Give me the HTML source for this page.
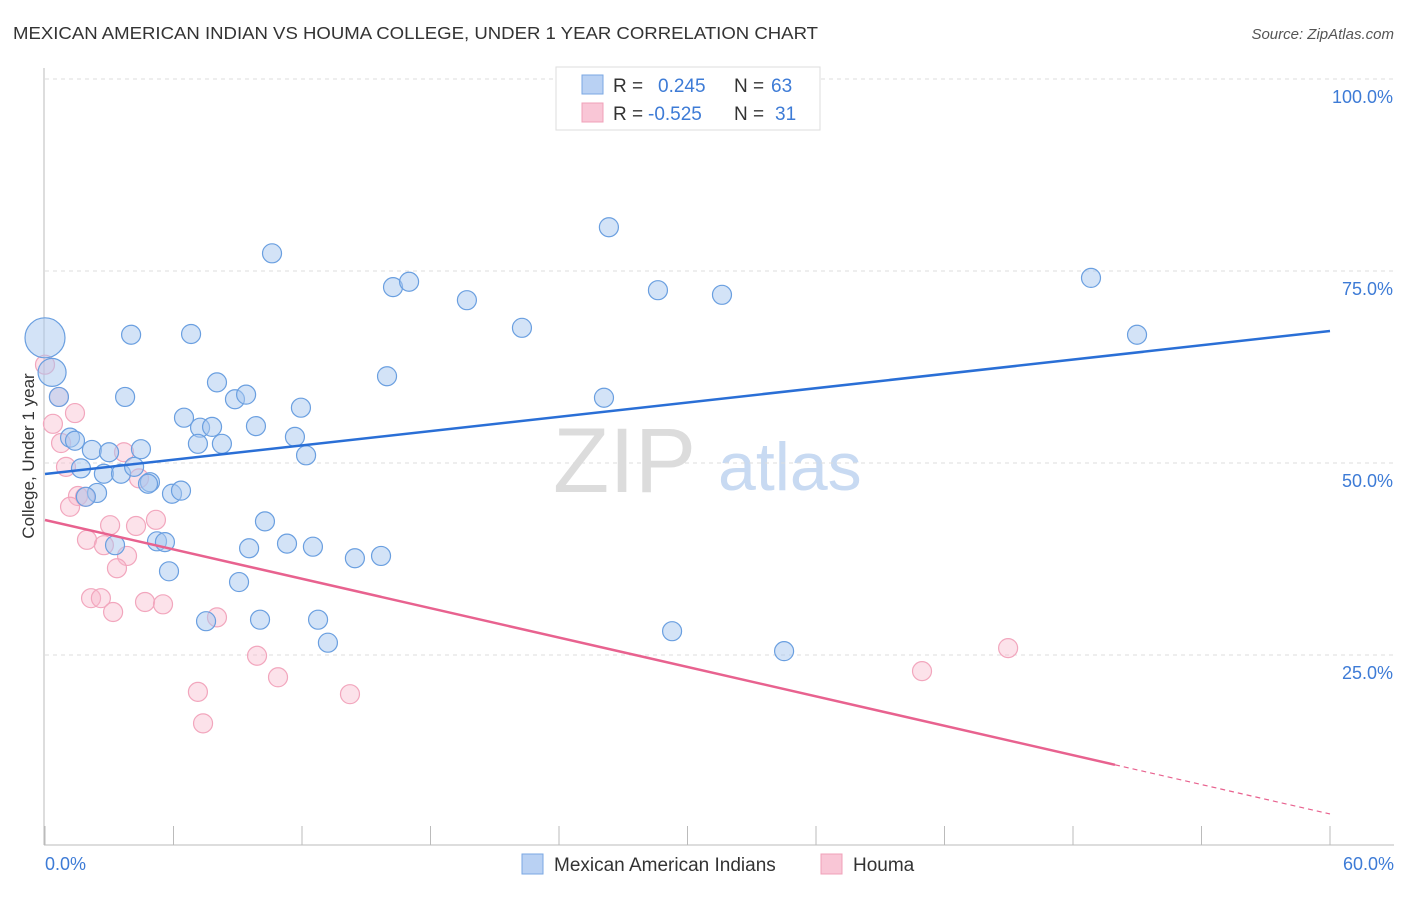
<!DOCTYPE html>
<html><head><meta charset="utf-8"><style>
body{margin:0;background:#fff;font-family:"Liberation Sans",sans-serif}
svg text{font-family:"Liberation Sans",sans-serif}
</style></head><body>
<svg id="chart" width="1406" height="892" xmlns="http://www.w3.org/2000/svg">
<text x="13" y="39" font-size="17.5" fill="#333" textLength="805" lengthAdjust="spacingAndGlyphs">MEXICAN AMERICAN INDIAN VS HOUMA COLLEGE, UNDER 1 YEAR CORRELATION CHART</text>
<text x="1394" y="39" font-size="15" fill="#555" text-anchor="end" font-style="italic">Source: ZipAtlas.com</text>
<g>
<text x="553" y="492" font-size="92" fill="#dcdcdc" font-family="Liberation Serif,serif">ZIP</text>
<text x="718" y="490" font-size="68" fill="#c8daf2">atlas</text>
</g>
<g id="grid"></g>
<g id="axes"></g>
<g id="pts"></g>
<g id="lines"></g>
<text transform="translate(34,456) rotate(-90)" font-size="17" fill="#333" text-anchor="middle">College, Under 1 year</text>
<g>
<rect x="556" y="67" width="264" height="63" fill="#fff" stroke="#ddd"/>
<rect x="582" y="75" width="21" height="19" fill="#b9d1f3" stroke="#7aa7e3"/>
<rect x="582" y="103" width="21" height="19" fill="#f9c6d6" stroke="#f0a0b8"/>
<text x="613" y="92" font-size="19" fill="#333">R =</text>
<text x="658" y="92" font-size="19" fill="#3d7bd6">0.245</text>
<text x="734" y="92" font-size="19" fill="#333">N =</text>
<text x="771" y="92" font-size="19" fill="#3d7bd6">63</text>
<text x="613" y="120" font-size="19" fill="#333">R =</text>
<text x="648" y="120" font-size="19" fill="#3d7bd6">-0.525</text>
<text x="734" y="120" font-size="19" fill="#333">N =</text>
<text x="775" y="120" font-size="19" fill="#3d7bd6">31</text>
</g>
<g>
<rect x="522" y="854" width="21" height="20" fill="#b9d1f3" stroke="#7aa7e3"/>
<text x="554" y="871" font-size="19" fill="#333">Mexican American Indians</text>
<rect x="821" y="854" width="21" height="20" fill="#f9c6d6" stroke="#f0a0b8"/>
<text x="853" y="871" font-size="19" fill="#333">Houma</text>
</g>
</svg>
<script>
const blueX=[0,0.33,0.65,4.02,6.82,3.74,8.03,8.87,9.39,6.49,7.24,7.80,7.14,8.26,9.85,4.48,2.19,2.99,1.17,1.40,1.68,2.75,3.55,4.16,4.90,4.81,5.93,6.35,2.43,1.91,5.23,5.60,3.27,5.79,7.52,9.06,9.53,10.27,10.04,11.30,12.51,12.75,13.21,14.47,15.69,11.67,12.19,11.95,15.97,16.25,17.00,10.60,19.70,22.27,26.33,28.62,31.61,26.10,29.28,34.51,48.84,50.99];
const blueY=[66.3,61.8,58.6,66.7,66.8,58.6,60.5,58.3,58.9,55.9,54.6,54.7,52.5,52.5,54.8,51.8,51.7,51.4,53.3,52.9,49.3,48.6,48.6,49.5,47.5,47.3,46.0,46.4,46.1,45.6,39.8,39.7,39.3,35.9,29.4,34.5,38.9,42.4,29.6,39.5,39.1,29.6,26.6,37.6,37.9,53.4,51.0,57.2,61.3,72.9,73.6,77.3,71.2,67.6,80.7,72.5,71.9,58.5,28.1,25.5,74.1,66.7];
const blueR=[20,14];
const pinkX=[0,0.65,1.40,0.37,0.75,0.98,3.69,4.39,1.54,1.87,1.17,3.04,4.25,5.18,1.96,2.75,3.83,3.36,2.15,2.61,3.18,4.67,5.51,8.03,7.14,9.90,10.88,14.24,7.38,40.95,44.97];
const pinkY=[62.8,58.6,56.5,55.1,52.6,49.5,51.4,48.0,45.7,45.6,44.3,41.9,41.8,42.6,40.0,39.3,37.9,36.3,32.4,32.4,30.6,31.9,31.6,29.9,20.2,24.9,22.1,19.9,16.1,22.9,25.9];
const blueTrend=[48.57,67.19];
const pinkTrend=[42.58,4.3];
const pinkSolidEnd=49.96;
const yTicks=[25,50,75,100];
const yTickLabels=["25.0%","50.0%","75.0%","100.0%"];
const xTicks=[0,6,12,18,24,30,36,42,48,54,60];

const NS="http://www.w3.org/2000/svg";
const X=v=>45+v/60*1285;
const Y=v=>847-v*7.68;
function mk(tag,attrs,parent){const e=document.createElementNS(NS,tag);for(const k in attrs)e.setAttribute(k,attrs[k]);parent.appendChild(e);return e;}
const grid=document.getElementById('grid'),axes=document.getElementById('axes'),pts=document.getElementById('pts'),lines=document.getElementById('lines');
yTicks.forEach((t,i)=>{
 const l=mk('line',{x1:45,x2:1394,y1:Y(t),y2:Y(t),stroke:'#ddd','stroke-dasharray':'4,4'},grid);
 
 
 const tx=mk('text',{x:1393,y:Y(t)+24,'font-size':18,fill:'#3d7bd6','text-anchor':'end'},axes);
 tx.textContent=yTickLabels[i];
 
 
});
mk('line',{x1:44,x2:44,y1:68,y2:845,stroke:'#bbb'},axes);
mk('line',{x1:44,x2:1394,y1:845,y2:845,stroke:'#bbb'},axes);
xTicks.forEach(t=>{
 const l=mk('line',{x1:X(t),x2:X(t),y1:826,y2:845,stroke:'#bbb'},axes);
 
 
});
const x0=mk('text',{x:45,y:870,'font-size':18,fill:'#3d7bd6'},axes);x0.textContent='0.0%';


const x1=mk('text',{x:1394,y:870,'font-size':18,fill:'#3d7bd6','text-anchor':'end'},axes);x1.textContent='60.0%';


pinkX.forEach((v,i)=>{
 const c=mk('circle',{cx:X(v),cy:Y(pinkY[i]),r:9.5,fill:'rgba(248,182,202,0.4)',stroke:'#f2a6bd','stroke-width':1.2},pts);
 
 
});
blueX.forEach((v,i)=>{
 const c=mk('circle',{cx:X(v),cy:Y(blueY[i]),r:blueR[i]||9.5,fill:'rgba(168,200,240,0.5)',stroke:'#6a9fe0','stroke-width':1.2},pts);
 
 
});
const bl=mk('line',{x1:X(0),y1:Y(blueTrend[0]),x2:X(60),y2:Y(blueTrend[1]),stroke:'#2a6fd6','stroke-width':2.5},lines);


const pAt=x=>pinkTrend[0]+(pinkTrend[1]-pinkTrend[0])*x/60;
const pl=mk('line',{x1:X(0),y1:Y(pinkTrend[0]),x2:X(pinkSolidEnd),y2:Y(pAt(pinkSolidEnd)),stroke:'#e8628f','stroke-width':2.5},lines);


const pd=mk('line',{x1:X(pinkSolidEnd),y1:Y(pAt(pinkSolidEnd)),x2:X(60),y2:Y(pinkTrend[1]),stroke:'#e8628f','stroke-width':1.2,'stroke-dasharray':'5,4'},lines);


</script>
</body></html>
